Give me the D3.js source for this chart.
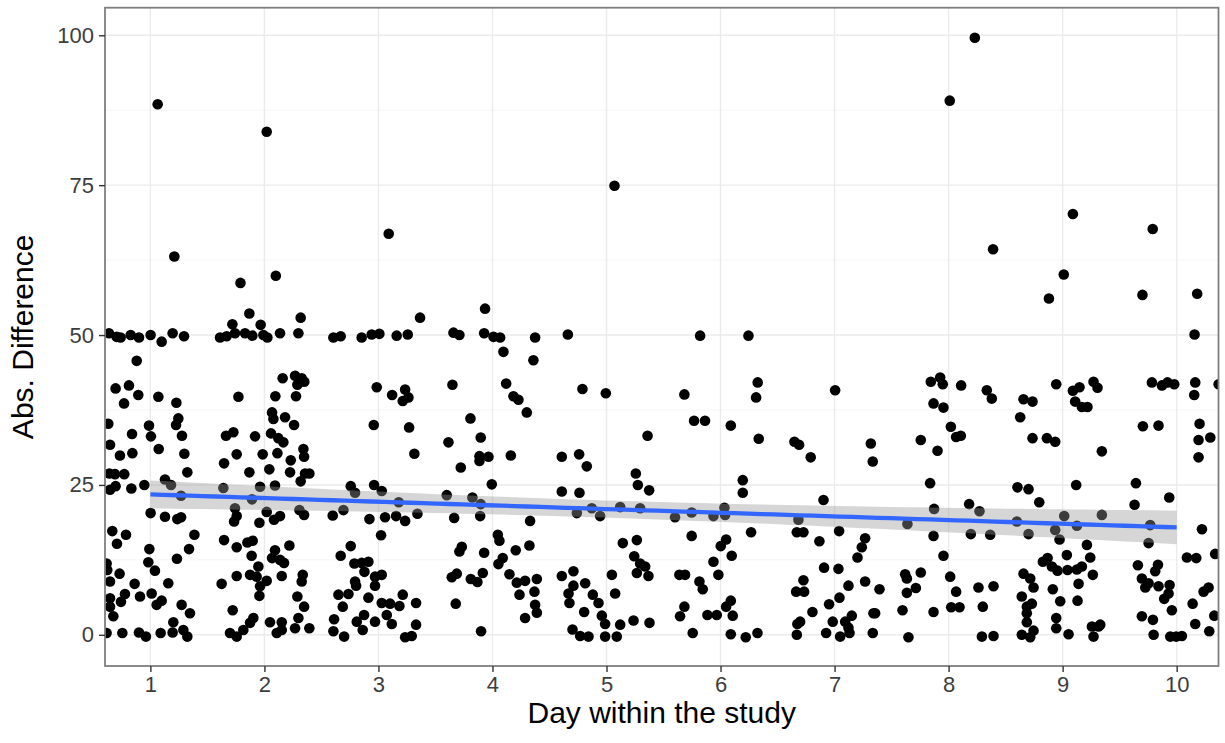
<!DOCTYPE html>
<html>
<head>
<meta charset="utf-8">
<script src="https://cdn.jsdelivr.net/npm/d3@7"></script>
<style>
  html, body { margin: 0; padding: 0; background: #ffffff; }
  svg { display: block; font-family: "Liberation Sans", Arial, Helvetica, sans-serif; }
</style>
</head>
<body>
<svg id="chart" width="1225" height="743"></svg>
<script>
// Jittered study day for each observation (day 1..10 with horizontal jitter)
const dayJitter = [
  // day 1
  0.637,0.704,0.739,0.827,0.900,1.002,1.099,1.195,1.295,0.880,0.695,0.812,0.769,0.894,1.070,1.228,
  0.631,0.988,1.245,1.225,0.839,1.005,1.277,0.646,1.073,0.733,0.842,1.298,1.324,0.640,0.690,0.771,
  1.128,1.181,1.269,0.646,0.695,0.833,0.947,1.002,1.128,1.236,1.269,0.666,0.786,0.707,1.386,0.991,
  1.339,1.233,0.982,1.040,0.616,0.622,0.730,0.646,0.862,1.157,1.011,0.646,0.777,0.742,0.909,1.099,
  1.055,1.274,0.646,0.675,1.347,1.201,0.616,0.754,0.900,0.961,1.090,1.195,1.289,1.324,1.064,1.210,
  // day 2
  1.868,1.719,1.967,2.318,1.611,1.669,1.742,1.830,1.894,1.991,2.026,2.137,2.298,2.160,2.269,2.327,
  2.350,2.289,1.772,2.096,2.277,2.067,2.079,2.181,2.260,1.663,1.728,1.918,2.058,2.122,2.166,2.342,
  1.757,1.985,2.114,2.348,1.646,2.231,2.043,1.868,2.225,2.356,2.394,2.318,1.640,1.962,2.093,1.891,
  1.742,1.757,1.734,1.956,2.020,2.084,2.137,2.307,2.348,1.646,1.757,1.851,1.897,2.219,1.888,2.093,
  2.067,2.137,2.172,1.947,1.757,1.874,1.932,2.020,2.152,2.336,2.327,1.625,1.962,1.956,2.289,2.348,
  1.722,1.903,1.874,1.815,2.049,2.152,2.298,2.269,2.394,1.698,1.757,2.108,2.152,2.020,1.790,2.100,
  // day 3
  3.365,2.605,2.669,2.853,2.941,3.008,3.160,3.257,2.985,3.120,3.234,3.263,3.213,2.959,3.269,3.315,
  2.757,2.795,2.962,3.029,3.178,2.599,2.693,2.921,3.058,3.155,3.234,3.342,3.023,2.757,2.669,2.789,
  2.853,2.912,2.877,2.970,3.029,2.795,2.804,2.970,2.649,2.737,2.912,2.687,3.029,3.102,3.184,3.213,
  3.330,2.611,3.073,3.117,2.810,2.874,2.862,2.970,2.605,2.699,3.234,3.292,3.330,3.090,
  // day 4
  3.935,3.658,3.710,3.927,4.009,4.067,4.374,4.096,4.359,3.649,4.120,4.184,4.228,4.301,3.807,3.614,
  3.897,3.886,3.965,3.886,4.161,3.722,3.994,3.599,3.824,3.897,3.892,3.664,4.330,4.047,4.061,3.731,
  3.710,3.927,4.204,4.324,4.090,4.052,3.687,3.643,3.810,3.868,3.915,4.149,4.213,4.286,4.389,4.237,
  4.368,3.678,4.374,4.389,4.286,3.900,
  // day 5
  4.661,4.789,4.994,5.360,4.608,4.760,4.827,5.257,5.275,5.374,4.608,4.763,4.871,4.740,4.944,5.120,
  5.295,5.143,5.266,5.243,5.295,5.339,5.266,5.368,4.608,4.710,4.813,4.710,4.667,4.675,4.880,4.930,
  4.804,4.959,4.988,5.047,5.076,5.120,5.237,5.377,4.702,4.769,4.842,4.988,5.090,5.070,
  // day 6
  5.821,6.245,6.326,6.312,5.683,5.768,5.864,6.090,6.335,6.195,6.195,6.034,5.747,5.601,5.938,6.040,
  5.747,6.268,6.049,6.002,6.098,5.938,5.639,5.689,5.981,5.815,5.844,6.090,6.049,5.683,5.645,5.885,
  5.967,6.107,5.756,6.090,6.221,6.324,
  // day 7
  7.005,6.648,6.689,6.791,7.318,7.335,6.903,6.683,6.669,6.727,6.867,7.040,7.268,7.239,7.201,6.908,
  7.034,6.727,6.663,6.733,7.122,7.268,7.043,6.952,6.806,6.698,6.674,6.984,7.151,7.093,7.122,7.049,
  7.131,6.669,6.926,7.341,7.335,7.394,7.356,
  // day 8
  7.844,7.926,7.949,8.110,7.868,7.955,8.020,8.066,8.107,7.756,7.903,7.838,7.873,8.180,8.271,7.639,
  7.868,8.195,7.955,7.619,7.634,7.756,8.014,7.634,7.713,8.066,8.262,7.596,7.868,8.023,8.096,8.300,
  7.648,8.292,8.335,8.379,8.365,8.394,8.394,8.230,8.010,8.390,
  // day 9
  8.657,8.736,8.628,8.944,9.090,9.148,9.110,9.169,9.218,9.271,8.736,8.862,8.935,8.604,8.701,8.795,
  9.119,8.599,8.701,9.014,9.125,8.935,8.973,9.213,8.827,8.868,9.037,9.242,8.657,8.716,8.745,8.906,
  8.955,9.043,9.125,9.169,9.140,9.265,8.914,8.642,8.979,9.131,8.686,8.730,8.686,8.686,8.944,8.944,
  8.745,8.642,8.716,9.052,9.257,9.271,9.306,9.330,9.344,9.344,9.315,9.090,9.010,8.880,
  // day 10
  10.157,9.783,9.871,9.920,9.979,10.163,10.154,10.368,9.704,9.841,10.201,10.192,10.295,10.192,9.643,9.935,
  9.631,9.768,10.222,9.754,10.090,10.172,10.338,9.660,9.836,9.812,9.695,9.754,9.725,9.841,9.938,9.929,
  9.891,10.236,10.280,10.140,9.958,9.695,9.792,10.163,10.330,10.286,9.798,9.944,9.996,10.046,9.700,9.790,
  10.180
];

// Absolute difference for each observation (same order as dayJitter)
const absDiff = [
  // day 1
  50.3,49.7,49.6,50.0,49.6,50.0,48.9,50.3,49.8,45.7,41.1,41.6,38.6,40.0,39.7,38.7,
  35.2,34.9,36.1,35.0,33.5,33.1,33.2,31.7,31.0,29.9,30.3,30.2,27.1,26.9,26.8,26.8,
  25.9,25.0,23.2,24.2,24.8,24.4,25.0,20.3,19.7,19.3,19.6,17.3,16.7,15.2,16.7,14.3,
  14.3,12.7,12.1,10.7,11.9,10.8,10.2,8.9,8.5,8.6,6.9,6.1,6.8,5.5,6.4,5.7,
  5.0,5.0,4.7,3.1,3.6,2.1,0.3,0.3,0.4,-0.3,0.3,0.4,0.8,-0.3,88.5,63.1,
  // day 2
  53.6,51.8,51.7,52.9,49.6,49.8,50.3,50.3,49.9,50.0,49.6,50.3,50.3,42.8,43.2,42.8,
  42.2,41.7,39.7,39.8,39.8,37.1,36.0,36.3,35.0,33.2,33.8,33.1,33.6,32.8,32.1,31.0,
  30.1,30.1,30.3,29.7,28.6,29.1,27.6,27.1,27.1,26.9,26.9,25.6,24.5,24.7,24.9,22.6,
  21.1,19.8,18.9,18.7,20.5,19.2,19.8,20.8,20.0,15.8,14.6,15.4,15.7,14.9,13.2,14.1,
  12.8,12.5,12.0,11.4,9.8,10.0,9.7,9.0,9.8,10.0,8.9,8.5,8.1,6.5,6.4,4.7,
  4.1,2.8,2.0,0.8,2.1,2.1,2.8,1.1,1.1,0.3,-0.3,0.3,0.8,83.9,58.7,59.9,
  // day 3
  52.9,49.6,49.8,49.6,50.1,50.2,49.9,50.1,41.3,40.0,40.9,39.6,39.0,35.0,34.6,30.2,
  24.8,23.7,25.0,24.0,22.1,19.9,20.8,19.3,19.6,19.8,19.0,20.2,16.6,14.8,13.2,11.9,
  12.0,12.2,10.5,9.7,10.0,8.9,8.2,8.2,6.7,6.8,6.2,4.7,5.3,5.2,4.8,6.7,
  5.3,2.6,3.3,1.8,2.2,3.3,0.8,2.2,0.6,-0.3,-0.4,-0.2,1.7,66.9,
  // day 4
  54.4,50.4,50.0,50.3,49.7,49.6,49.6,47.2,45.8,41.7,41.9,39.8,39.2,37.1,36.1,32.1,
  32.9,29.8,29.7,29.0,29.9,27.9,25.1,23.3,22.9,21.8,19.8,19.5,19.0,16.7,15.7,14.7,
  13.9,13.7,14.1,14.9,12.8,11.8,10.2,9.6,9.3,8.8,10.3,10.1,8.7,9.0,9.3,6.7,
  7.2,5.2,5.0,3.7,2.8,0.6,
  // day 5
  50.1,41.0,40.3,33.2,29.7,30.1,28.1,26.9,25.0,24.1,23.9,23.7,21.1,20.3,19.8,21.3,
  21.1,15.3,15.8,13.1,11.9,11.4,10.3,9.8,9.8,10.6,8.6,8.2,6.9,5.3,6.7,5.3,
  3.8,3.2,1.8,10.0,6.9,1.7,2.4,2.0,0.9,-0.2,-0.3,-0.3,-0.3,74.9,
  // day 6
  49.9,49.9,42.1,39.6,40.1,35.7,35.7,34.9,32.7,25.8,23.7,21.2,20.4,19.6,19.8,20.0,
  16.5,17.1,15.9,14.8,13.2,12.2,10.0,10.0,10.0,8.9,7.6,5.7,4.7,4.7,3.1,3.3,
  3.3,3.2,0.3,0.1,-0.4,0.3,
  // day 7
  40.8,32.2,31.7,29.6,31.9,28.9,22.5,19.2,17.1,17.1,15.6,17.3,16.1,14.6,12.9,11.2,
  11.0,9.1,7.2,7.2,8.2,8.9,6.2,5.1,3.8,2.2,1.8,2.2,3.2,2.2,1.2,-0.3,
  0.3,0.0,0.3,3.6,0.3,7.6,3.6,
  // day 8
  42.2,42.9,41.8,41.6,38.6,37.9,34.7,33.0,33.2,32.5,30.7,25.3,21.0,21.8,20.6,18.5,
  16.5,16.8,13.2,10.1,9.4,10.4,9.7,7.0,7.8,7.2,7.9,4.1,3.8,4.6,4.6,4.7,
  -0.4,-0.3,40.8,39.4,16.7,8.1,-0.2,99.6,89.1,64.3,
  // day 9
  39.3,38.9,36.3,41.8,40.7,41.3,38.9,38.0,38.0,42.2,32.8,32.8,32.2,24.6,24.3,22.1,
  25.0,18.9,16.8,19.8,18.2,17.5,15.9,15.0,12.2,12.8,13.3,12.9,10.2,9.4,7.9,11.4,
  10.7,10.8,10.9,11.4,8.5,10.0,7.6,6.4,5.6,5.7,4.7,5.2,3.6,2.1,2.8,1.1,
  0.7,0.0,-0.4,0.1,1.4,-0.3,41.2,1.7,30.6,20.0,1.4,70.2,60.1,56.1,
  // day 10
  50.1,42.1,41.6,42.1,41.8,42.1,40.0,41.8,34.8,34.9,35.2,32.5,32.9,29.6,25.3,22.9,
  21.7,18.3,17.6,15.3,12.9,12.8,13.5,11.6,11.7,10.6,9.4,8.6,7.9,8.1,8.3,6.9,
  6.0,7.2,7.9,5.2,4.1,3.1,2.5,1.8,3.2,0.6,0.0,-0.3,-0.3,-0.2,56.7,67.7,
  56.9
];

const xTicks = [1, 2, 3, 4, 5, 6, 7, 8, 9, 10];
const yTicks = [0, 25, 50, 75, 100];
const yMinorTicks = [12.5, 37.5, 62.5, 87.5];
const xTitle = "Day within the study";
const yTitle = "Abs. Difference";

const svg = d3.select("#chart");
const panel = { left: 105, right: 1218.5, top: 7.7, bottom: 666 };

const x = d3.scaleLinear().domain([0.602, 10.367]).range([panel.left, panel.right]);
const y = d3.scaleLinear().domain([-5.2, 104.6]).range([panel.bottom, panel.top]);

svg.append("defs").append("clipPath").attr("id", "panelClip")
  .append("rect")
  .attr("x", panel.left).attr("y", panel.top)
  .attr("width", panel.right - panel.left).attr("height", panel.bottom - panel.top);

// panel background
svg.append("rect")
  .attr("x", panel.left).attr("y", panel.top)
  .attr("width", panel.right - panel.left).attr("height", panel.bottom - panel.top)
  .attr("fill", "#ffffff");

const grid = svg.append("g");
grid.selectAll(".ymin").data(yMinorTicks).join("line")
  .attr("x1", panel.left).attr("x2", panel.right)
  .attr("y1", d => y(d)).attr("y2", d => y(d))
  .attr("stroke", "#f2f2f2").attr("stroke-width", 0.8);
grid.selectAll(".ymaj").data(yTicks).join("line")
  .attr("x1", panel.left).attr("x2", panel.right)
  .attr("y1", d => y(d)).attr("y2", d => y(d))
  .attr("stroke", "#ebebeb").attr("stroke-width", 1.4);
grid.selectAll(".xmaj").data(xTicks).join("line")
  .attr("y1", panel.top).attr("y2", panel.bottom)
  .attr("x1", d => x(d)).attr("x2", d => x(d))
  .attr("stroke", "#ebebeb").attr("stroke-width", 1.4);

// points
const pts = dayJitter.map((d, i) => ({ day: d, val: absDiff[i] }));
svg.append("g").attr("clip-path", "url(#panelClip)")
  .selectAll("circle").data(pts).join("circle")
  .attr("cx", d => x(d.day)).attr("cy", d => y(d.val))
  .attr("r", 5.3).attr("fill", "#000000");

// linear fit on the study day (jitter removed) with 95% confidence band
const obs = pts.map(p => ({ xd: Math.round(p.day), v: p.val }));
const n = obs.length;
const xbar = d3.mean(obs, o => o.xd);
const vbar = d3.mean(obs, o => o.v);
const sxx = d3.sum(obs, o => (o.xd - xbar) ** 2);
const sxy = d3.sum(obs, o => (o.xd - xbar) * (o.v - vbar));
const slope = sxy / sxx;
const intercept = vbar - slope * xbar;
const rss = d3.sum(obs, o => (o.v - (intercept + slope * o.xd)) ** 2);
const sigma = Math.sqrt(rss / (n - 2));
const tq = 1.965;
const fitX = d3.range(80).map(i => 1 + 9 * i / 79);
const fit = fitX.map(xv => {
  const f = intercept + slope * xv;
  const se = sigma * Math.sqrt(1 / n + (xv - xbar) ** 2 / sxx);
  return { xv, f, lo: f - tq * se, hi: f + tq * se };
});

const smooth = svg.append("g").attr("clip-path", "url(#panelClip)");
smooth.append("path").datum(fit)
  .attr("d", d3.area().x(d => x(d.xv)).y0(d => y(d.lo)).y1(d => y(d.hi)))
  .attr("fill", "#999999").attr("fill-opacity", 0.4);
smooth.append("path").datum(fit)
  .attr("d", d3.line().x(d => x(d.xv)).y(d => y(d.f)))
  .attr("fill", "none").attr("stroke", "#3366FF").attr("stroke-width", 4.3);

// panel border
svg.append("rect")
  .attr("x", panel.left).attr("y", panel.top)
  .attr("width", panel.right - panel.left).attr("height", panel.bottom - panel.top)
  .attr("fill", "none").attr("stroke", "#7f7f7f").attr("stroke-width", 1.8);

// axes
const xAxis = svg.append("g").attr("transform", `translate(0,${panel.bottom})`)
  .call(d3.axisBottom(x).tickValues(xTicks).tickFormat(d3.format("d")).tickSize(6).tickPadding(4));
const yAxis = svg.append("g").attr("transform", `translate(${panel.left},0)`)
  .call(d3.axisLeft(y).tickValues(yTicks).tickFormat(d3.format("d")).tickSize(6).tickPadding(5));
[xAxis, yAxis].forEach(a => {
  a.select(".domain").remove();
  a.selectAll(".tick line").attr("stroke", "#333333").attr("stroke-width", 1.4);
  a.selectAll(".tick text").attr("fill", "#3d3d3d")
    .style("font-size", "22px").style("font-family", "'Liberation Sans', Arial, sans-serif");
});

svg.append("text")
  .attr("x", (panel.left + panel.right) / 2).attr("y", 723)
  .attr("text-anchor", "middle").attr("fill", "#000")
  .style("font-size", "30px").text(xTitle);
svg.append("text")
  .attr("transform", `translate(33,${(panel.top + panel.bottom) / 2}) rotate(-90)`)
  .attr("text-anchor", "middle").attr("fill", "#000")
  .style("font-size", "30px").text(yTitle);
</script>
</body>
</html>
